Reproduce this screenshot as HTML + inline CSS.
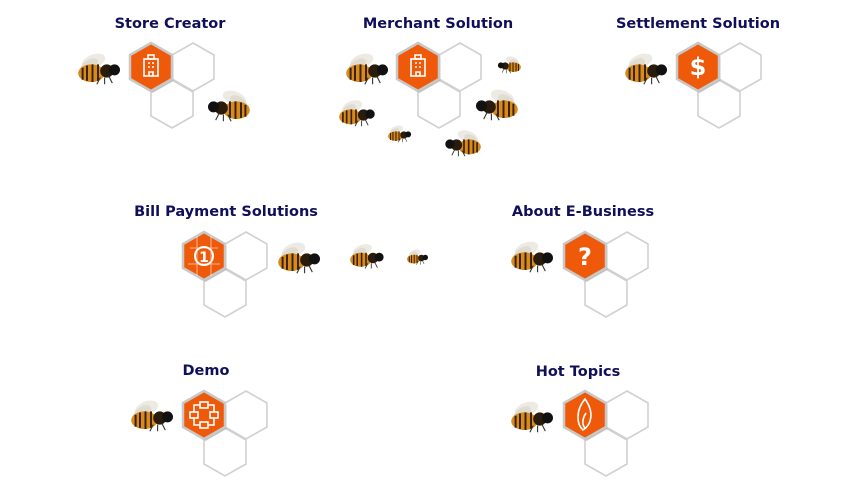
<!DOCTYPE html>
<html><head><meta charset="utf-8"><style>
html,body{margin:0;padding:0;background:#fff;width:854px;height:500px;overflow:hidden}
text{font-family:"DejaVu Sans","Liberation Sans",sans-serif;font-weight:bold;font-size:14.5px;fill:#0f0f5a;text-anchor:middle}
</style></head><body>
<svg width="854" height="500" viewBox="0 0 854 500" xmlns="http://www.w3.org/2000/svg">
<defs>
<polygon id="hx" points="0,-24 21,-12 21,12 0,24 -21,12 -21,-12"/>
<g id="grp">
 <use href="#hx" x="42" y="0" fill="none" stroke="#d0d0d0" stroke-width="1.6"/>
 <use href="#hx" x="21" y="37" fill="none" stroke="#d0d0d0" stroke-width="1.6"/>
 <use href="#hx" x="1.5" y="2" fill="#999" opacity="0.5"/>
 <use href="#hx" fill="#ee5a0a" stroke="#c8c8c8" stroke-width="2.5"/>
</g>
<g id="bee0">
 <ellipse cx="-4" cy="-9" rx="11" ry="6" fill="#e8e4dc" opacity="0.8" transform="rotate(-20 -4 -9)"/>
 <ellipse cx="-8" cy="-5" rx="9" ry="5" fill="#ddd8cc" opacity="0.8" transform="rotate(-35 -8 -5)"/>
 <ellipse cx="-6" cy="2" rx="12" ry="8" fill="#d98a1c"/>
 <path d="M-14,-3 v11 M-10,-5 v14 M-5,-6 v16 M0,-6 v15" stroke="#3a2208" stroke-width="1.8"/>
 <ellipse cx="8" cy="0" rx="6" ry="6" fill="#2a1c0c"/>
 <circle cx="15" cy="-1" r="5" fill="#111"/>
 <path d="M2,6 l-3,6 M6,6 l0,6 M10,5 l3,6" stroke="#333" stroke-width="1"/>
</g>
<g id="bee"><use href="#bee0" transform="scale(1.1)"/></g>
</defs>

<text x="170" y="28">Store Creator</text>
<text x="438" y="28">Merchant Solution</text>
<text x="698" y="28">Settlement Solution</text>
<text x="226" y="216">Bill Payment Solutions</text>
<text x="583" y="216">About E-Business</text>
<text x="206" y="375">Demo</text>
<text x="578" y="376">Hot Topics</text>

<use href="#grp" x="151" y="67"/>
<use href="#grp" x="418" y="67"/>
<use href="#grp" x="698" y="67"/>
<use href="#grp" x="204" y="256"/>
<use href="#grp" x="585" y="256"/>
<use href="#grp" x="204" y="415"/>
<use href="#grp" x="585" y="415"/>

<g fill="none" stroke="#fff" stroke-width="1.6">
 <g transform="translate(151,67)"><rect x="-7" y="-8" width="14" height="17"/><rect x="-3" y="-12" width="6" height="4"/><path d="M-3,-4h2M1,-4h2M-3,0h2M1,0h2M-2,9v-4h4v4"/></g>
 <g transform="translate(418,67)"><rect x="-7" y="-8" width="14" height="17"/><rect x="-3" y="-12" width="6" height="4"/><path d="M-3,-4h2M1,-4h2M-3,0h2M1,0h2M-2,9v-4h4v4"/></g>
 <g transform="translate(204,256)"><path d="M-14,-8h28M-16,8h32M-7,-20v40M7,-20v40" stroke-width="0.8" opacity="0.7"/><circle r="9" stroke-width="2"/></g>
 <g transform="translate(204,415)"><rect x="-4" y="-13" width="8" height="6"/><rect x="-14" y="-3" width="8" height="6"/><rect x="6" y="-3" width="8" height="6"/><rect x="-4" y="7" width="8" height="6"/><path d="M-10,-3v-7h6M4,-10h6v7M-10,3v7h6M4,10h6v-7"/></g>
 <g transform="translate(585,415)"><path d="M0,-16C-10,-4 -8,10 -2,15C6,10 10,-2 0,-16Z"/><path d="M1,-2C-3,4 -3,10 0,13"/></g>
</g>
<text x="698" y="75" style="fill:#fff;font-size:24px">$</text>
<text x="204" y="262" style="fill:#fff;font-size:14px">1</text>
<text x="585" y="265" style="fill:#fff;font-size:24px">?</text>

<use href="#bee" transform="translate(98,71)"/>
<use href="#bee" transform="translate(230,108) scale(-1,1)"/>
<use href="#bee" transform="translate(366,71)"/>
<use href="#bee" transform="translate(510,66) scale(-0.55,0.55)"/>
<use href="#bee" transform="translate(356,115) scale(0.85)"/>
<use href="#bee" transform="translate(498,107) scale(-1,1)"/>
<use href="#bee" transform="translate(399,135) scale(0.55)"/>
<use href="#bee" transform="translate(464,145) scale(-0.85,0.85)"/>
<use href="#bee" transform="translate(645,71)"/>
<use href="#bee" transform="translate(298,260)"/>
<use href="#bee" transform="translate(366,258) scale(0.8)"/>
<use href="#bee" transform="translate(417,258) scale(0.5)"/>
<use href="#bee" transform="translate(531,259)"/>
<use href="#bee" transform="translate(151,418)"/>
<use href="#bee" transform="translate(531,419)"/>
</svg>
</body></html>
